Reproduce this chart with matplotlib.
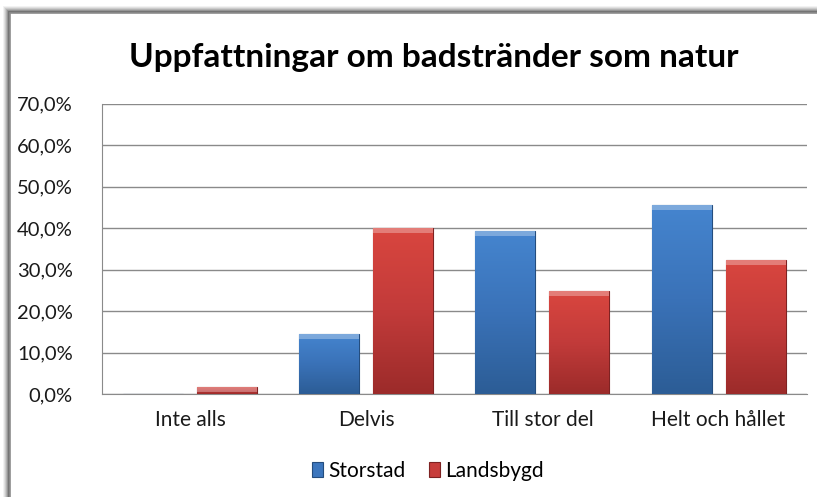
import numpy as np
import matplotlib.pyplot as plt
from matplotlib.patches import Rectangle
from matplotlib.colors import LinearSegmentedColormap

categories = ['Inte alls', 'Delvis', 'Till stor del', 'Helt och hållet']
storstad = [0.0, 14.5, 39.3, 45.7]
landsbygd = [1.7, 40.1, 24.8, 32.4]
yticks = [0, 10, 20, 30, 40, 50, 60, 70]
ytick_labels = ['0,0%', '10,0%', '20,0%', '30,0%', '40,0%', '50,0%', '60,0%', '70,0%']

plt.rcParams['font.family'] = ['Lato', 'DejaVu Sans']

fig = plt.figure(figsize=(8.17, 4.97), dpi=100)
W, H = 817, 497

# shadow + frame of the chart area (right and bottom edges fall outside the image)
for i, a in enumerate([0.05, 0.07, 0.09, 0.12, 0.16, 0.22]):
    d = 7 - i
    fig.patches.append(Rectangle(((10 - d) / W, -0.02), (W + 20) / W, (H - 13 + d) / H + 0.02,
                                 transform=fig.transFigure, facecolor='black',
                                 alpha=a, edgecolor='none', zorder=0))
fig.patches.append(Rectangle((10 / W, -0.02), (W + 20) / W, (H - 13) / H + 0.02,
                             transform=fig.transFigure, facecolor='white',
                             edgecolor='#8c8c8c', linewidth=1.2, zorder=1))

ax = fig.add_axes([102 / W, 1 - 394.3 / H, (806.7 - 102) / W, (394.3 - 103.7) / H], zorder=2)
ax.set_facecolor('none')

x = np.arange(len(categories))
w = 0.34
off = 0.21

blue_cmap = LinearSegmentedColormap.from_list('b', ['#2c5d96', '#3a72b8', '#4585cf'])
red_cmap = LinearSegmentedColormap.from_list('r', ['#9c2b2a', '#c23b3a', '#d9463f'])

def gradient_bars(xs, vals, cmap, edge, label):
    bars = ax.bar(xs, vals, w, color=cmap(0.6), edgecolor=edge, linewidth=0.8,
                  label=label, zorder=3)
    for b in bars:
        if b.get_height() <= 0:
            continue
        x0, y0 = b.get_x(), b.get_y()
        grad = np.linspace(0, 1, 100).reshape(-1, 1)
        im = ax.imshow(grad, cmap=cmap, aspect='auto', origin='lower',
                       extent=[x0, x0 + b.get_width(), y0, y0 + b.get_height()], zorder=3.5)
        im.set_clip_path(b)
        # bevel highlight along the top
        hh = min(1.2, b.get_height())
        ax.fill_between([x0, x0 + b.get_width()], y0 + b.get_height() - hh, y0 + b.get_height(),
                        color='white', alpha=0.3, linewidth=0, zorder=3.6)
    return bars

gradient_bars(x - off, storstad, blue_cmap, '#244d7e', 'Storstad')
gradient_bars(x + off, landsbygd, red_cmap, '#7e2222', 'Landsbygd')

ax.set_xlim(-0.5, len(categories) - 0.5)
ax.set_ylim(0, 70)
ax.set_yticks(yticks)
ax.set_yticklabels(ytick_labels, fontsize=14.5, color='#1a1a1a')
ax.set_xticks(x)
ax.set_xticklabels(categories, fontsize=15, color='#1a1a1a')
ax.tick_params(axis='y', length=0, pad=21)
ax.tick_params(axis='x', length=0, pad=11)
ax.yaxis.grid(True, color='#8a8a8a', linewidth=1)
ax.set_axisbelow(True)
for s in ['top', 'right']:
    ax.spines[s].set_visible(False)
ax.spines['left'].set_color('#8a8a8a')
ax.spines['bottom'].set_color('#8a8a8a')

fig.text(434 / W, 1 - 57 / H, 'Uppfattningar om badstränder som natur', ha='center', va='center',
         fontsize=24, fontweight='bold', color='black', zorder=3)

fig.legend(loc='center', bbox_to_anchor=(428 / W, 1 - 471 / H), ncol=2, frameon=False,
           fontsize=15, handlelength=0.55, handleheight=0.7, handletextpad=0.25, columnspacing=1.1)

plt.savefig('out.png', dpi=100)
